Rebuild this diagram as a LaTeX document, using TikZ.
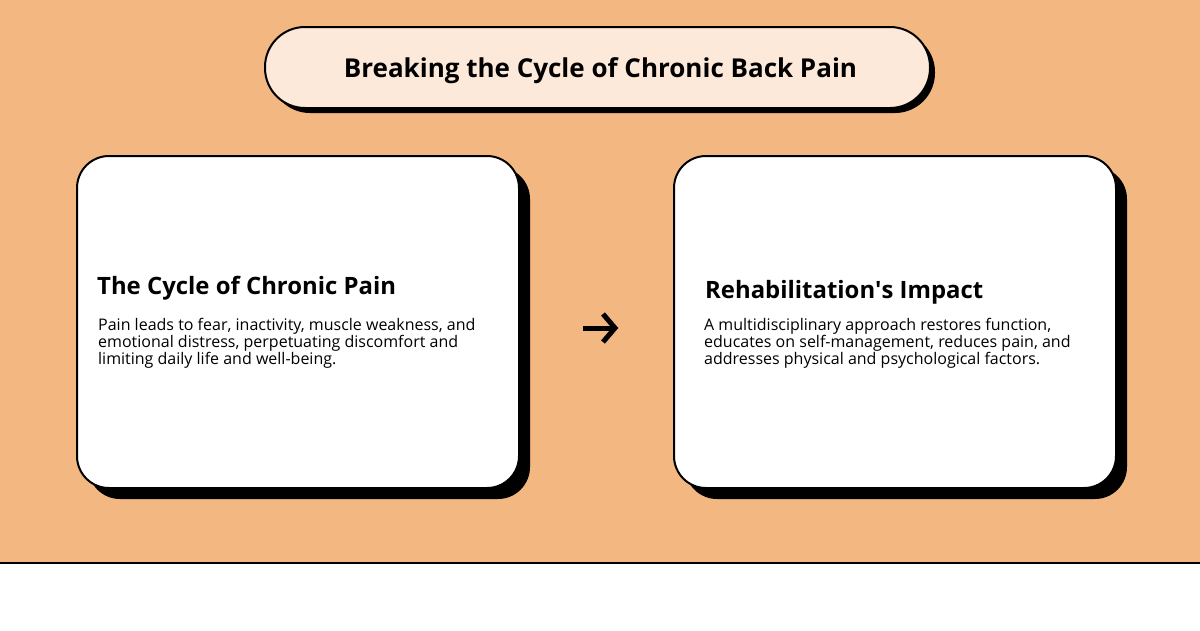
\documentclass[tikz,border=0pt]{standalone}
\usepackage{fontspec}
\setmainfont{Open Sans}
\definecolor{bgorange}{HTML}{F3B781}
\definecolor{pill}{HTML}{FDE9DA}
\begin{document}
\begin{tikzpicture}[x=1pt,y=-1pt,
  card/.style={draw=black,line width=2pt,fill=white,rounded corners=32pt},
  shadowbox/.style={fill=black,rounded corners=32pt},
  heading/.style={anchor=base west,inner sep=0pt,font=\fontsize{23.9}{28}\selectfont\bfseries},
  body/.style={anchor=north west,inner sep=0pt,align=left,font=\fontsize{16}{16}\selectfont}]
\useasboundingbox (0,0) rectangle (1200,630);
\fill[white] (0,0) rectangle (1200,630);
\fill[bgorange] (0,0) rectangle (1200,562);
\draw[line width=2pt] (0,563) -- (1200,563);
% title pill
\fill[black,rounded corners=40pt] (270,32) rectangle (935,113);
\node[draw=black,line width=2pt,fill=pill,rounded corners=40pt,minimum width=665pt,minimum height=81pt,inner sep=0pt] (title) at (597.5,67.5) {};
\node[inner sep=0pt,font=\fontsize{26}{30}\selectfont\bfseries] (titletext) at (600.5,70.5) {Breaking the Cycle of Chronic Back Pain};
% left card
\fill[shadowbox] (88,167) rectangle (530,499);
\node[card,minimum width=442pt,minimum height=332pt,inner sep=0pt] (left) at (298,322) {};
\node[heading] (lefthead) at (97,294) {The Cycle of Chronic Pain};
\node[body] (leftbody) at (98,318) {Pain leads to fear, inactivity, muscle weakness, and\\emotional distress, perpetuating discomfort and\\limiting daily life and well-being.};
% right card
\fill[shadowbox] (685,167) rectangle (1127,499);
\node[card,minimum width=442pt,minimum height=332pt,inner sep=0pt] (right) at (895,322) {};
\node[heading] (righthead) at (705,298) {Rehabilitation\textquotesingle s Impact};
\node[body] (rightbody) at (704,318) {A multidisciplinary approach restores function,\\educates on self-management, reduces pain, and\\addresses physical and psychological factors.};
% arrow
\coordinate (a1) at (583,328);
\coordinate (a2) at (615,328);
\draw[line width=5pt] (a1) -- (a2);
\draw[line width=5pt,line join=miter] (603,314) -- (a2) -- (603,342);
\end{tikzpicture}
\end{document}
